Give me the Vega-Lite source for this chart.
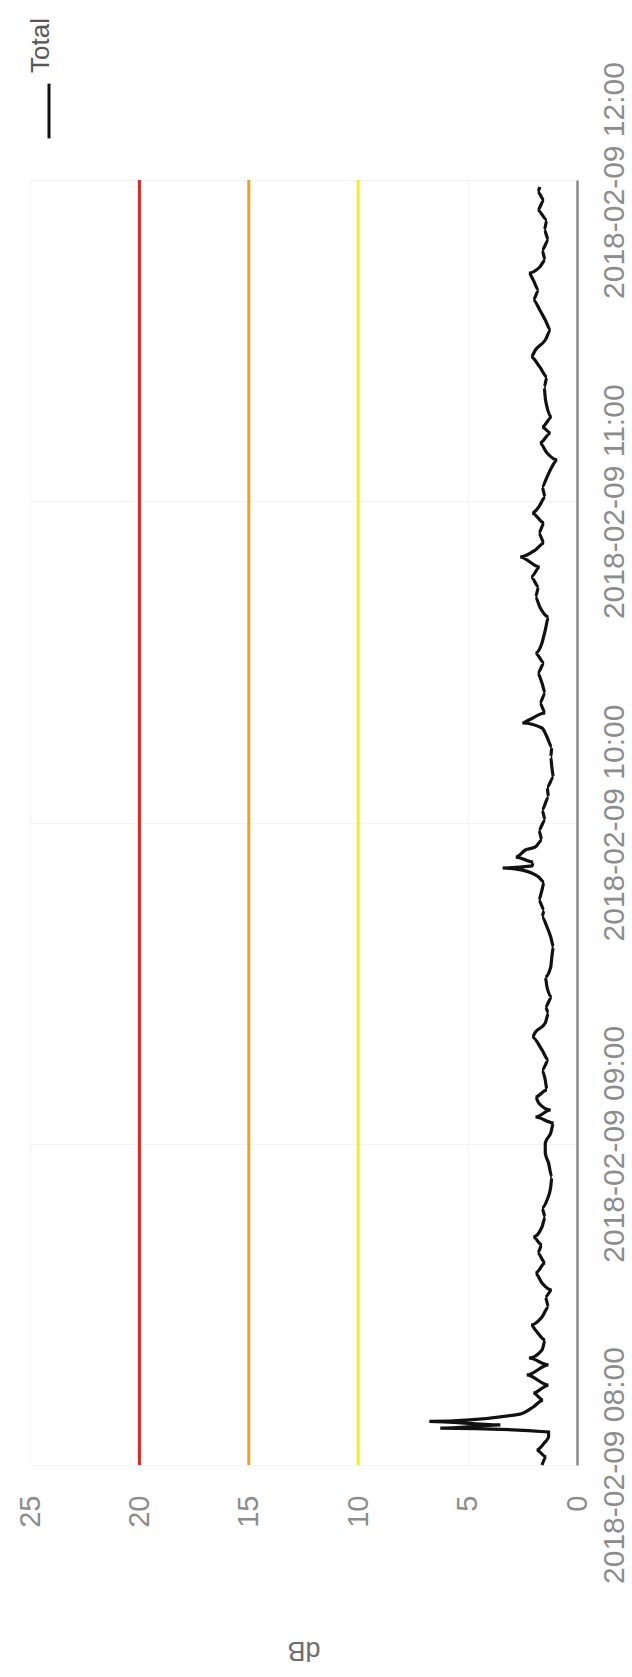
{
  "$schema": "https://vega.github.io/schema/vega-lite/v6.json",
  "width": 547,
  "height": 1285,
  "autosize": {"type": "none"},
  "padding": {"left": 30, "top": 180, "right": 55, "bottom": 212},
  "background": "white",
  "config": {"view": {"stroke": null}, "font": "Liberation Sans"},
  "layer": [
    {
      "data": {"values": [{"limit": 10}, {"limit": 15}, {"limit": 20}]},
      "mark": {"type": "rule", "strokeWidth": 3},
      "encoding": {
        "x": {
          "field": "limit", "type": "quantitative",
          "scale": {"domain": [0, 25], "reverse": true, "nice": false, "zero": false},
          "axis": {
            "title": "dB", "values": [0, 5, 10, 15, 20, 25],
            "labelAngle": -90, "labelAlign": "right", "labelBaseline": "middle",
            "labelPadding": 30, "labelFontSize": 29, "labelColor": "#8c8c8c", "labelFlush": false,
            "ticks": false, "tickSize": 0, "domain": false,
            "grid": true, "gridColor": "#f4f4f4", "gridWidth": 1,
            "titleAngle": 180, "titleBaseline": "bottom", "titlePadding": 108,
            "titleFontSize": 27, "titleFontWeight": "normal", "titleColor": "#6e6e6e"
          }
        },
        "color": {
          "field": "limit", "type": "ordinal",
          "scale": {"domain": [10, 15, 20], "range": ["#f9ee14", "#f2a01c", "#e3231f"]},
          "legend": null
        }
      }
    },
    {
      "data": {"values": [
        {"time": "2018-02-09T08:00:00", "db": 1.6},
        {"time": "2018-02-09T08:01:30", "db": 1.4},
        {"time": "2018-02-09T08:02:48", "db": 1.85},
        {"time": "2018-02-09T08:04:06", "db": 1.5},
        {"time": "2018-02-09T08:05:14", "db": 1.3},
        {"time": "2018-02-09T08:06:10", "db": 1.3},
        {"time": "2018-02-09T08:06:54", "db": 6.25},
        {"time": "2018-02-09T08:07:29", "db": 3.5},
        {"time": "2018-02-09T08:08:09", "db": 6.75},
        {"time": "2018-02-09T08:09:31", "db": 2.6},
        {"time": "2018-02-09T08:10:50", "db": 2.0},
        {"time": "2018-02-09T08:12:08", "db": 1.55},
        {"time": "2018-02-09T08:13:27", "db": 2.0},
        {"time": "2018-02-09T08:14:56", "db": 1.3},
        {"time": "2018-02-09T08:16:49", "db": 2.3},
        {"time": "2018-02-09T08:18:41", "db": 1.3},
        {"time": "2018-02-09T08:19:59", "db": 2.2},
        {"time": "2018-02-09T08:21:29", "db": 1.6},
        {"time": "2018-02-09T08:23:21", "db": 1.45},
        {"time": "2018-02-09T08:25:13", "db": 1.9},
        {"time": "2018-02-09T08:26:09", "db": 2.1},
        {"time": "2018-02-09T08:27:38", "db": 1.6},
        {"time": "2018-02-09T08:29:30", "db": 1.3},
        {"time": "2018-02-09T08:31:23", "db": 1.45},
        {"time": "2018-02-09T08:32:41", "db": 1.15},
        {"time": "2018-02-09T08:34:00", "db": 1.6},
        {"time": "2018-02-09T08:35:51", "db": 1.9},
        {"time": "2018-02-09T08:37:44", "db": 1.45},
        {"time": "2018-02-09T08:39:36", "db": 1.8},
        {"time": "2018-02-09T08:41:06", "db": 1.6},
        {"time": "2018-02-09T08:42:35", "db": 2.0},
        {"time": "2018-02-09T08:44:27", "db": 1.6},
        {"time": "2018-02-09T08:46:19", "db": 1.45},
        {"time": "2018-02-09T08:48:00", "db": 1.6},
        {"time": "2018-02-09T08:49:30", "db": 1.37},
        {"time": "2018-02-09T08:51:55", "db": 1.2},
        {"time": "2018-02-09T08:53:47", "db": 1.15},
        {"time": "2018-02-09T08:56:24", "db": 1.3},
        {"time": "2018-02-09T08:58:16", "db": 1.45},
        {"time": "2018-02-09T09:00:08", "db": 1.45},
        {"time": "2018-02-09T09:02:01", "db": 1.2},
        {"time": "2018-02-09T09:03:53", "db": 1.07},
        {"time": "2018-02-09T09:05:00", "db": 1.9},
        {"time": "2018-02-09T09:06:18", "db": 1.2},
        {"time": "2018-02-09T09:07:37", "db": 1.75},
        {"time": "2018-02-09T09:08:44", "db": 1.9},
        {"time": "2018-02-09T09:10:03", "db": 1.37},
        {"time": "2018-02-09T09:11:54", "db": 1.45},
        {"time": "2018-02-09T09:13:46", "db": 1.6},
        {"time": "2018-02-09T09:15:38", "db": 1.3},
        {"time": "2018-02-09T09:17:31", "db": 1.6},
        {"time": "2018-02-09T09:19:56", "db": 2.05},
        {"time": "2018-02-09T09:20:52", "db": 1.9},
        {"time": "2018-02-09T09:22:33", "db": 1.45},
        {"time": "2018-02-09T09:24:25", "db": 1.3},
        {"time": "2018-02-09T09:25:33", "db": 1.45},
        {"time": "2018-02-09T09:27:24", "db": 1.15},
        {"time": "2018-02-09T09:29:16", "db": 1.37},
        {"time": "2018-02-09T09:31:09", "db": 1.45},
        {"time": "2018-02-09T09:33:01", "db": 1.2},
        {"time": "2018-02-09T09:34:53", "db": 1.15},
        {"time": "2018-02-09T09:36:45", "db": 1.07},
        {"time": "2018-02-09T09:38:37", "db": 1.2},
        {"time": "2018-02-09T09:40:29", "db": 1.37},
        {"time": "2018-02-09T09:42:21", "db": 1.6},
        {"time": "2018-02-09T09:43:39", "db": 1.5},
        {"time": "2018-02-09T09:45:31", "db": 1.75},
        {"time": "2018-02-09T09:47:24", "db": 1.6},
        {"time": "2018-02-09T09:48:53", "db": 1.5},
        {"time": "2018-02-09T09:49:49", "db": 1.75},
        {"time": "2018-02-09T09:51:07", "db": 2.5},
        {"time": "2018-02-09T09:51:30", "db": 3.4},
        {"time": "2018-02-09T09:51:53", "db": 2.05},
        {"time": "2018-02-09T09:52:37", "db": 2.0},
        {"time": "2018-02-09T09:53:33", "db": 2.8},
        {"time": "2018-02-09T09:54:52", "db": 2.36},
        {"time": "2018-02-09T09:55:26", "db": 1.9},
        {"time": "2018-02-09T09:56:44", "db": 1.6},
        {"time": "2018-02-09T09:58:36", "db": 1.75},
        {"time": "2018-02-09T10:00:28", "db": 1.45},
        {"time": "2018-02-09T10:02:20", "db": 1.6},
        {"time": "2018-02-09T10:04:46", "db": 1.3},
        {"time": "2018-02-09T10:06:37", "db": 1.37},
        {"time": "2018-02-09T10:08:30", "db": 1.07},
        {"time": "2018-02-09T10:10:22", "db": 1.15},
        {"time": "2018-02-09T10:12:14", "db": 1.2},
        {"time": "2018-02-09T10:14:06", "db": 1.15},
        {"time": "2018-02-09T10:15:58", "db": 1.37},
        {"time": "2018-02-09T10:17:39", "db": 1.6},
        {"time": "2018-02-09T10:18:35", "db": 2.5},
        {"time": "2018-02-09T10:19:09", "db": 2.2},
        {"time": "2018-02-09T10:20:27", "db": 1.45},
        {"time": "2018-02-09T10:22:19", "db": 1.7},
        {"time": "2018-02-09T10:24:11", "db": 1.45},
        {"time": "2018-02-09T10:26:03", "db": 1.6},
        {"time": "2018-02-09T10:27:55", "db": 1.8},
        {"time": "2018-02-09T10:29:47", "db": 1.5},
        {"time": "2018-02-09T10:31:39", "db": 1.9},
        {"time": "2018-02-09T10:33:32", "db": 1.6},
        {"time": "2018-02-09T10:35:57", "db": 1.45},
        {"time": "2018-02-09T10:38:23", "db": 1.3},
        {"time": "2018-02-09T10:40:15", "db": 1.7},
        {"time": "2018-02-09T10:42:07", "db": 1.9},
        {"time": "2018-02-09T10:43:59", "db": 1.75},
        {"time": "2018-02-09T10:45:51", "db": 2.1},
        {"time": "2018-02-09T10:47:43", "db": 1.7},
        {"time": "2018-02-09T10:49:35", "db": 2.6},
        {"time": "2018-02-09T10:50:54", "db": 1.9},
        {"time": "2018-02-09T10:52:12", "db": 1.5},
        {"time": "2018-02-09T10:54:04", "db": 1.75},
        {"time": "2018-02-09T10:55:56", "db": 1.5},
        {"time": "2018-02-09T10:57:48", "db": 2.05},
        {"time": "2018-02-09T10:58:55", "db": 1.75},
        {"time": "2018-02-09T11:00:47", "db": 1.45},
        {"time": "2018-02-09T11:02:40", "db": 1.6},
        {"time": "2018-02-09T11:04:32", "db": 1.37},
        {"time": "2018-02-09T11:06:24", "db": 1.15},
        {"time": "2018-02-09T11:07:42", "db": 0.9},
        {"time": "2018-02-09T11:09:01", "db": 1.37},
        {"time": "2018-02-09T11:10:53", "db": 1.7},
        {"time": "2018-02-09T11:12:45", "db": 1.2},
        {"time": "2018-02-09T11:13:52", "db": 1.6},
        {"time": "2018-02-09T11:15:44", "db": 1.15},
        {"time": "2018-02-09T11:17:36", "db": 1.37},
        {"time": "2018-02-09T11:19:17", "db": 1.45},
        {"time": "2018-02-09T11:21:20", "db": 1.5},
        {"time": "2018-02-09T11:23:12", "db": 1.37},
        {"time": "2018-02-09T11:25:04", "db": 1.7},
        {"time": "2018-02-09T11:26:57", "db": 2.1},
        {"time": "2018-02-09T11:28:15", "db": 1.9},
        {"time": "2018-02-09T11:30:07", "db": 1.45},
        {"time": "2018-02-09T11:31:59", "db": 1.2},
        {"time": "2018-02-09T11:33:51", "db": 1.45},
        {"time": "2018-02-09T11:35:43", "db": 1.7},
        {"time": "2018-02-09T11:37:35", "db": 2.0},
        {"time": "2018-02-09T11:39:27", "db": 1.75},
        {"time": "2018-02-09T11:41:19", "db": 2.0},
        {"time": "2018-02-09T11:42:38", "db": 2.2},
        {"time": "2018-02-09T11:43:45", "db": 1.7},
        {"time": "2018-02-09T11:45:03", "db": 1.45},
        {"time": "2018-02-09T11:46:55", "db": 1.6},
        {"time": "2018-02-09T11:48:48", "db": 1.3},
        {"time": "2018-02-09T11:50:40", "db": 1.5},
        {"time": "2018-02-09T11:52:31", "db": 1.37},
        {"time": "2018-02-09T11:54:24", "db": 1.8},
        {"time": "2018-02-09T11:56:16", "db": 1.5},
        {"time": "2018-02-09T11:57:46", "db": 1.8},
        {"time": "2018-02-09T11:58:42", "db": 1.7}
      ]},
      "mark": {"type": "line", "interpolate": "monotone", "strokeWidth": 3.2},
      "encoding": {
        "x": {"field": "db", "type": "quantitative", "scale": {"domain": [0, 25], "reverse": true, "nice": false, "zero": false}},
        "y": {
          "field": "time", "type": "temporal",
          "scale": {"domain": [{"year": 2018, "month": 2, "date": 9, "hours": 8}, {"year": 2018, "month": 2, "date": 9, "hours": 12}], "nice": false},
          "axis": {
            "orient": "right", "title": null, "format": "%Y-%m-%d %H:%M",
            "tickCount": 4,
            "labelAngle": -90, "labelAlign": "center", "labelBaseline": "top",
            "labelPadding": 22, "labelFontSize": 30, "labelColor": "#8c8c8c", "labelLimit": 400,
            "labelOverlap": false, "labelFlush": false,
            "ticks": false, "tickSize": 0,
            "domain": true, "domainColor": "#8a8a8a", "domainWidth": 2.5,
            "grid": true, "gridColor": "#f4f4f4", "gridWidth": 1
          }
        },
        "color": {
          "datum": "Total",
          "scale": {"range": ["#111111"]},
          "legend": {
            "orient": "top", "title": null, "offset": 35,
            "symbolSize": 3000, "symbolStrokeWidth": 3, "symbolOffset": -10,
            "labelFontSize": 26, "labelColor": "#555555", "labelOffset": -37,
            "encoding": {
              "symbols": {"angle": {"value": 90}},
              "labels": {"angle": {"value": -90}, "dx": {"value": 38}}
            }
          }
        }
      }
    }
  ],
  "resolve": {"scale": {"color": "independent"}}
}
